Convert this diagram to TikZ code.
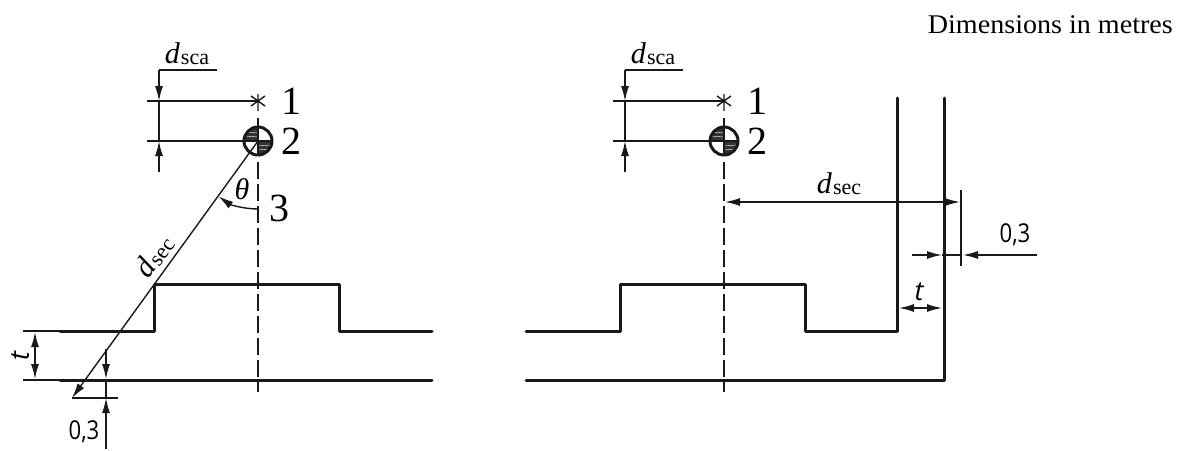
\documentclass[tikz,border=0pt]{standalone}
\usepackage{fontspec}
\setmainfont{Liberation Serif}
\newfontfamily\isofont{Open Sans}
\usetikzlibrary{arrows.meta}
\tikzset{
  thinl/.style={line width=1.4pt,black!90},
  thickl/.style={line width=3pt,black!90,line cap=round,line join=round},
  axisl/.style={line width=1.4pt,black!90,dash pattern=on 17pt off 5pt},
  dim/.style={thinl,{Latex[length=15pt,width=8pt]}-{Latex[length=15pt,width=8pt]}},
  dimend/.style={thinl,-{Latex[length=15pt,width=8pt]}},
  lbl/.style={inner sep=0pt,font=\fontsize{40}{40}\selectfont},
  sym/.style={inner sep=0pt,font=\fontsize{30}{30}\selectfont},
  isot/.style={inner sep=0pt,font=\isofont\itshape\fontsize{27}{27}\selectfont},
  iso/.style={inner sep=0pt,xscale=.85,font=\isofont\fontsize{26}{26}\selectfont},
  note/.style={inner sep=0pt,xscale=1.04,font=\fontsize{27}{27}\selectfont}
}
\newcommand{\dsym}[1]{\textit{d}\kern1pt\raisebox{-1.5pt}{\fontsize{22}{22}\selectfont #1}}
\newcommand{\lampgroup}{%
  \coordinate (top) at (0,-101);
  \coordinate (cen) at (0,-141);
  \coordinate (dimtop) at (-99,-70);
  \coordinate (dimup) at (-99,-101);
  \coordinate (dimlow) at (-99,-141);
  \coordinate (dimbot) at (-99,-172);
  \draw[thinl] (dimtop) -- (-41,-70);
  \draw[dimend] (dimtop) -- (dimup);
  \draw[thinl] (dimup) -- (dimlow);
  \draw[dimend] (dimbot) -- (dimlow);
  \draw[thinl] (-111,-101) -- (top);
  \draw[thinl] (-111,-141) -- (-14,-141);
  \draw[thinl] (-7,-96) -- (7,-106) (7,-96) -- (-7,-106) (0,-94) -- (0,-111);
  \draw[thinl] (0,-118) -- (0,-127);
  \fill[black!80] (cen) -- (-14,-141) arc (180:90:14) -- cycle;
  \fill[black!80] (cen) -- (14,-141) arc (0:-90:14) -- cycle;
  \draw[white,line width=.4pt] (-13,-136) -- (0,-137) (-12,-132) -- (0,-133) (0,-146) -- (13,-145) (0,-150) -- (11,-149);
  \draw[thinl] (-14,-141) -- (14,-141) (0,-127) -- (0,-155);
  \draw[thickl] (cen) circle (14);
  \node[sym,anchor=base] (dscal) at (-71,-63) {\dsym{sca}};
  \node[lbl] (one) at (33,-101) {1};
  \node[lbl] (two) at (33,-141) {2};
}
\begin{document}
\begin{tikzpicture}[x=1pt,y=1pt]
\useasboundingbox (0,0) rectangle (1177,-450);
\node[note,anchor=base east] (title) at (1173,-33) {Dimensions in metres};

% left view
\begin{scope}[shift={(258,0)}]\lampgroup\end{scope}
\draw[axisl] (258,-162) -- (258,-392);
\coordinate (lc) at (258,-141);
\coordinate (ltip) at (72,-398);
\draw[dimend] (lc) -- (ltip);
\draw[thinl,-{Latex[length=15pt,width=8pt]}] (258,-209) arc[start angle=-90,end angle=-125.5,radius=68];
\node[sym] (theta) at (242,-189) {\textit{θ}};
\node[lbl] (three) at (279,-208) {3};
\node[sym,rotate=54] (dsecl) at (154,-256) {\dsym{sec}};
\draw[thickl] (60,-331) -- (154,-331) -- (154,-284) -- (339,-284) -- (339,-331) -- (432,-331);
\draw[thickl] (60,-380) -- (432,-380);
\draw[thinl] (23,-331) -- (60,-331) (23,-380) -- (60,-380);
\draw[dim] (35,-332) -- (35,-379);
\node[isot,rotate=90] (tl) at (20,-356) {t};
\coordinate (lsa) at (106,-349);
\coordinate (lsb) at (106,-379);
\coordinate (lsc) at (106,-398);
\coordinate (lsd) at (106,-449);
\draw[dimend] (lsa) -- (lsb);
\draw[thinl] (lsb) -- (lsc);
\draw[dimend] (lsd) -- (lsc);
\draw[thinl] (ltip) -- (118,-398);
\node[iso] (ozl) at (84,-432) {0,3};

% right view
\begin{scope}[shift={(724,0)}]\lampgroup\end{scope}
\draw[axisl] (724,-162) -- (724,-392);
\draw[thickl] (526,-331) -- (620,-331) -- (620,-284) -- (805,-284) -- (805,-331) -- (897,-331) -- (897,-98);
\draw[thickl] (526,-380) -- (944,-380) -- (944,-98);
\coordinate (ra) at (725,-202);
\coordinate (rb) at (960,-202);
\draw[dim] (ra) -- (rb);
\node[sym,anchor=base] (dsecr) at (839,-193) {\dsym{sec}};
\draw[thinl] (961,-190) -- (961,-266);
\draw[dimend] (912,-255) -- (942,-255);
\draw[thinl] (942,-255) -- (961,-255);
\draw[dimend] (1037,-255) -- (963,-255);
\node[iso] (ozr) at (1015,-235) {0,3};
\draw[dim] (899,-308) -- (942,-308);
\node[isot] (tr) at (919,-292) {t};
\end{tikzpicture}
\end{document}
